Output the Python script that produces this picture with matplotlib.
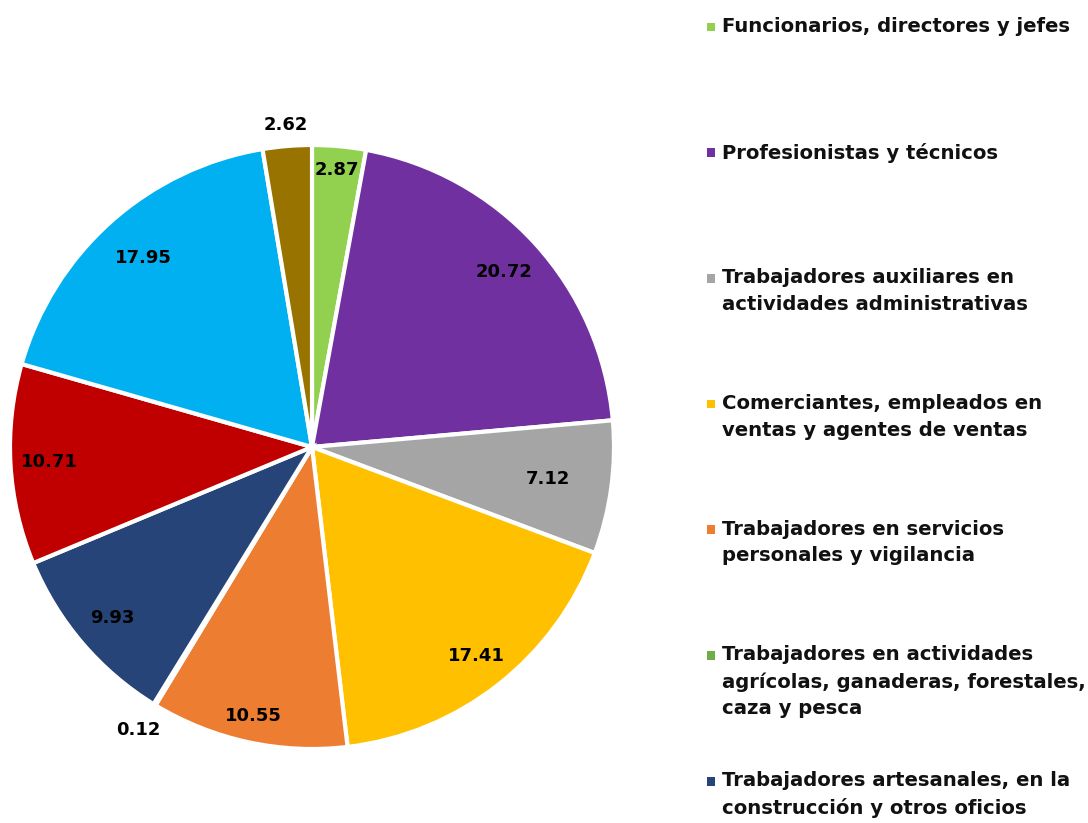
import numpy as np
import matplotlib.pyplot as plt

# Participación por grupo de ocupación (%)
categorias = [
    "Funcionarios, directores y jefes",
    "Profesionistas y técnicos",
    "Trabajadores auxiliares en\nactividades administrativas",
    "Comerciantes, empleados en\nventas y agentes de ventas",
    "Trabajadores en servicios\npersonales y vigilancia",
    "Trabajadores en actividades\nagrícolas, ganaderas, forestales,\ncaza y pesca",
    "Trabajadores artesanales, en la\nconstrucción y otros oficios",
    "Operadores de maquinaria industrial,\nensambladores, choferes y\nconductores de transporte",
    "Trabajadores en actividades\nelementales y de apoyo",
    "No especificado",
]
valores = [2.87, 20.72, 7.12, 17.41, 10.55, 0.12, 9.93, 10.71, 17.95, 2.62]
colores = ["#92D050", "#7030A0", "#A5A5A5", "#FFC000", "#ED7D31",
           "#70AD47", "#264478", "#C00000", "#00B0F0", "#997300"]
# distancia radial de cada etiqueta (fracción del radio)
dist_etiqueta = [0.92, 0.86, 0.79, 0.88, 0.91, 1.10, 0.87, 0.87, 0.84, 1.07]

W, H = 1088, 823
fig = plt.figure(figsize=(W / 100, H / 100), dpi=100)
ax = fig.add_axes([0, 0, 1, 1])

cx, cy, R = 312, H - 447, 302
ax.pie(valores, colors=colores, startangle=90, counterclock=False,
       center=(cx, cy), radius=R, frame=True,
       wedgeprops=dict(edgecolor="white", linewidth=3))
ax.set_xlim(0, W)
ax.set_ylim(0, H)
ax.set_aspect("equal")
ax.axis("off")

cum = np.cumsum([0] + valores[:-1])
for v, c0, d in zip(valores, cum, dist_etiqueta):
    ang = np.deg2rad(90 - (c0 + v / 2) / sum(valores) * 360)
    ax.text(cx + d * R * np.cos(ang), cy + d * R * np.sin(ang), f"{v:.2f}",
            ha="center", va="center", fontsize=13, fontweight="bold", color="black")

# leyenda dibujada a mano a la derecha; solo caben las primeras entradas
y0, paso = H - 27, 125.7
for i, (cat, col) in enumerate(zip(categorias, colores)):
    y = y0 - i * paso
    if y < 0:
        break
    ax.scatter([711], [y], marker="s", s=40, color=col, edgecolor="none")
    ax.text(722, y + 10, cat, ha="left", va="top", fontsize=14.1,
            fontweight="bold", color="#111111", linespacing=1.5)

fig.savefig("out.png", dpi=100)
